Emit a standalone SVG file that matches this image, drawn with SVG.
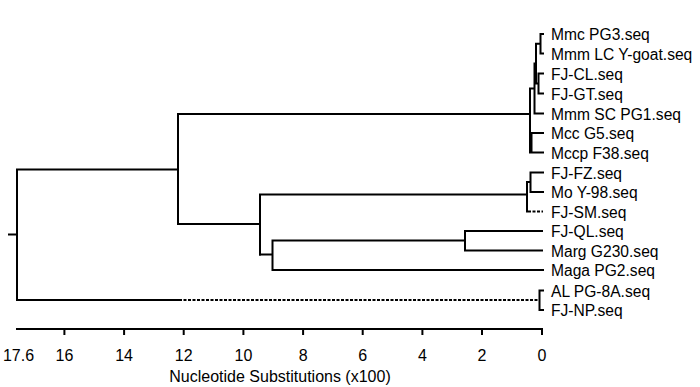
<svg xmlns="http://www.w3.org/2000/svg" width="700" height="387" viewBox="0 0 700 387">
<style>
.br{fill:none;stroke:#000;stroke-width:2;stroke-linecap:square}
.ds{fill:none;stroke:#000;stroke-width:2;stroke-dasharray:3,1.5}
.lb{font-family:"Liberation Sans",Arial,sans-serif;font-size:15.6px;fill:#000}
.tk{font-family:"Liberation Sans",Arial,sans-serif;font-size:16px;fill:#000;text-anchor:middle}
</style>
<rect width="700" height="387" fill="#fff"/>
<g id="connectors">
<path class="br" d="M9,234.5H17M17,169.5V300M17,169.5H178M178,114V224M17,300H178"/>
<path class="br" d="M178,114H530M530,88.5V152.5M530,88.5H534.5M534.5,63.6V113.5M534.5,113.5H543M534.5,63.6H536M536,43.75V83.5M536,43.75H540.5M540.5,34V53.5M540.5,34H543M540.5,53.5H543M536,83.5H538.5M538.5,73.5V93.5M538.5,73.5H543M538.5,93.5H543M530,142.75H531.5M531.5,133V152.5M531.5,133H543M530,152.5H543"/>
<path class="br" d="M178,224H260M260,194.5V254.5M260,194.5H527M527,182V211.5M527,182H530.5M530.5,172.5V192M530.5,172.5H543M530.5,192H543"/>
<path class="ds" d="M528,211.5H543"/>
<path class="br" d="M260,254.5H272.5M272.5,240.5V270M272.5,240.5H465M465,231V250.5M465,231H542M465,250.5H542M272.5,270H543"/>
<path class="ds" d="M179,300H539.5"/>
<path class="br" d="M539.5,290.5V310M539.5,290.5H543M539.5,310H543"/>
</g>
<g id="leaves">
<g id="n-mmc-pg3"><text class="lb" x="551" y="40">Mmc PG3.seq</text></g>
<g id="n-mmm-lc"><text class="lb" x="551" y="59.5">Mmm LC Y-goat.seq</text></g>
<g id="n-fj-cl"><text class="lb" x="551" y="79.5">FJ-CL.seq</text></g>
<g id="n-fj-gt"><text class="lb" x="551" y="99.5">FJ-GT.seq</text></g>
<g id="n-mmm-sc"><text class="lb" x="551" y="119.5">Mmm SC PG1.seq</text></g>
<g id="n-mcc-g5"><text class="lb" x="551" y="139">Mcc G5.seq</text></g>
<g id="n-mccp-f38"><text class="lb" x="551" y="158.5">Mccp F38.seq</text></g>
<g id="n-fj-fz"><text class="lb" x="551" y="178.5">FJ-FZ.seq</text></g>
<g id="n-mo-y98"><text class="lb" x="551" y="198">Mo Y-98.seq</text></g>
<g id="n-fj-sm"><text class="lb" x="551" y="217.5">FJ-SM.seq</text></g>
<g id="n-fj-ql"><text class="lb" x="551" y="237">FJ-QL.seq</text></g>
<g id="n-marg"><text class="lb" x="551" y="256.5">Marg G230.seq</text></g>
<g id="n-maga"><text class="lb" x="551" y="276">Maga PG2.seq</text></g>
<g id="n-al"><text class="lb" x="551" y="296.5">AL PG-8A.seq</text></g>
<g id="n-fj-np"><text class="lb" x="551" y="316">FJ-NP.seq</text></g>
</g>
<g id="axis">
<path class="br" d="M17,329H542M64.4,329V334M124.1,329V334M183.7,329V334M243.4,329V334M303.1,329V334M362.7,329V334M422.4,329V334M482,329V334M542,329V334"/>
<text class="tk" x="18.5" y="361">17.6</text>
<text class="tk" x="64.4" y="361">16</text>
<text class="tk" x="124.1" y="361">14</text>
<text class="tk" x="183.7" y="361">12</text>
<text class="tk" x="243.4" y="361">10</text>
<text class="tk" x="303.1" y="361">8</text>
<text class="tk" x="362.7" y="361">6</text>
<text class="tk" x="422.4" y="361">4</text>
<text class="tk" x="482" y="361">2</text>
<text class="tk" x="542" y="361">0</text>
<text class="tk" x="280" y="381.5">Nucleotide Substitutions (x100)</text>
</g>
</svg>
